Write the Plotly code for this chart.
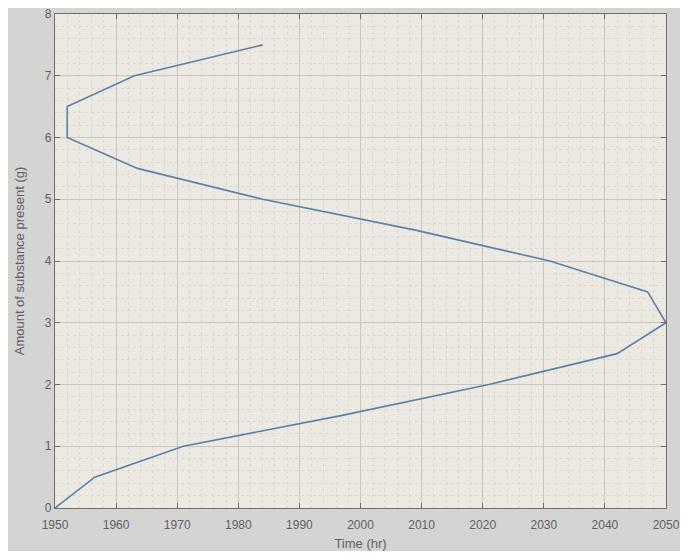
import plotly.graph_objects as go

amount_g = [0, 0.5, 1, 1.5, 2, 2.5, 3, 3.5, 4, 4.5, 5, 5.5, 6, 6.5, 7, 7.5]
time_hr = [1950, 1956.5, 1971, 1997, 2021, 2042, 2050, 2047, 2031, 2009, 1984, 1963.5, 1952, 1952, 1963, 1984]
x_ticks = [1950, 1960, 1970, 1980, 1990, 2000, 2010, 2020, 2030, 2040, 2050]
y_ticks = [0, 1, 2, 3, 4, 5, 6, 7, 8]

FONT = "Liberation Sans, Arial"
TXT = "#606060"

fig = go.Figure()
fig.add_trace(go.Scatter(x=time_hr, y=amount_g, mode="lines",
                         line=dict(color="#5b81a8", width=1.6), showlegend=False))

axis_common = dict(
    showline=True, linecolor="#6e6e6e", linewidth=1.2, mirror="ticks",
    ticks="inside", ticklen=5, tickcolor="#6e6e6e",
    showgrid=True, gridcolor="#c8c6bf", gridwidth=1,
    zeroline=False, ticklabeloverflow="allow", automargin=False,
    tickfont=dict(family=FONT, size=12, color=TXT),
)

fig.update_xaxes(range=[1950, 2050], tickvals=x_ticks, ticktext=[str(v) for v in x_ticks],
                 ticklabelstandoff=5,
                 title=dict(text="Time (hr)", font=dict(family=FONT, size=13, color=TXT), standoff=8),
                 minor=dict(dtick=2, showgrid=True, gridcolor="#dbd9d1", griddash="dot", ticks=""),
                 **axis_common)
fig.update_yaxes(range=[0, 8], tickvals=y_ticks, ticktext=[str(v) for v in y_ticks],
                 title=dict(text="Amount of substance present (g)", font=dict(family=FONT, size=13, color=TXT), standoff=17),
                 minor=dict(dtick=0.2, showgrid=True, gridcolor="#dbd9d1", griddash="dot", ticks=""),
                 **axis_common)

# page body adds an 8px offset; compensate so the plot area sits where the reference has it
fig.update_layout(
    width=672, height=543,
    margin=dict(l=47, r=14, t=6, b=43),
    paper_bgcolor="#d4d4d2",
    plot_bgcolor="#ebe9e1",
)

fig.write_html("out.html")
